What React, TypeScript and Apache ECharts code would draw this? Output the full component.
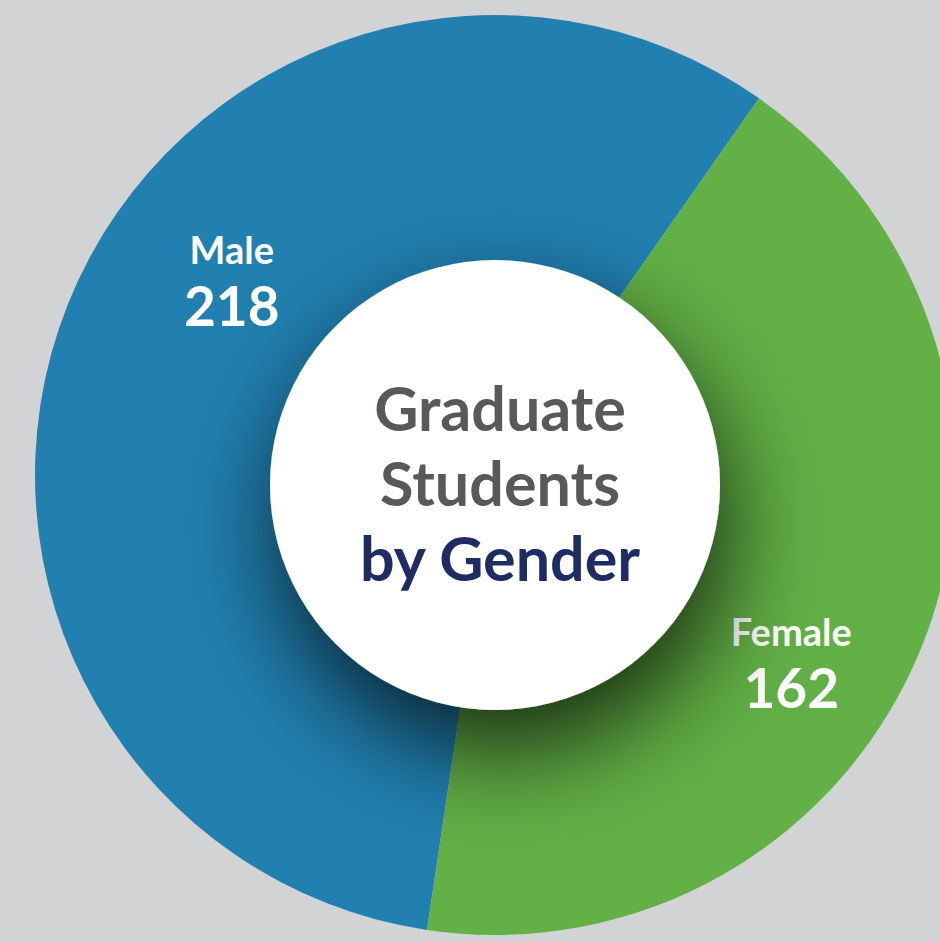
import React, { useEffect, useRef } from "react";
import * as echarts from "echarts";

const categories = ["Male", "Female"];
const values = [218, 162];
const sliceColors = ["#2180b0", "#62b046"];
const titleLines = ["Graduate", "Students"];
const titleAccent = "by Gender";

export default function App() {
  const ref = useRef<HTMLDivElement>(null);
  useEffect(() => {
    document.body.style.margin = "0";
    const chart = echarts.init(ref.current!, null, { renderer: "svg" });
    const labelShift = [
      { dx: 46, dy: -72 },
      { dx: -13, dy: 64 },
    ];
    chart.setOption({
      animation: false,
      backgroundColor: "#d2d3d5",
      series: [
        {
          type: "pie",
          center: [495, 475],
          radius: [200, 460],
          startAngle: 261.5,
          clockwise: true,
          silent: true,
          data: categories.map((c, i) => ({
            name: c,
            value: values[i],
            itemStyle: { color: sliceColors[i] },
          })),
          label: {
            show: true,
            position: "inside",
            formatter: "{n|{b}}\n{v|{c}}",
            rich: {
              n: {
                fontFamily: "Lato",
                fontSize: 38,
                fontWeight: "bold",
                color: "#ffffff",
                lineHeight: 50,
                align: "center",
              },
              v: {
                fontFamily: "Lato",
                fontSize: 55,
                fontWeight: "bold",
                color: "#ffffff",
                lineHeight: 62,
                align: "center",
              },
            },
          },
          labelLine: { show: false },
          labelLayout: (p: any) => labelShift[p.dataIndex],
          emphasis: { disabled: true },
        },
      ],
      graphic: [
        {
          type: "circle",
          z: 100,
          shape: { cx: 495, cy: 485, r: 225 },
          style: {
            fill: "#ffffff",
            shadowBlur: 100,
            shadowColor: "rgba(0,0,0,0.75)",
            shadowOffsetX: 8,
            shadowOffsetY: 42,
          },
        },
        {
          type: "text",
          z: 101,
          x: 500,
          y: 482,
          style: {
            text:
              titleLines.map((t) => "{g|" + t + "}").join("\n") +
              "\n{b|" + titleAccent + "}",
            align: "center",
            verticalAlign: "middle",
            rich: {
              g: {
                fontFamily: "Lato",
                fontSize: 61,
                fontWeight: "bold",
                fill: "#58595b",
                lineHeight: 75,
                align: "center",
              },
              b: {
                fontFamily: "Lato",
                fontSize: 61,
                fontWeight: "bold",
                fill: "#1f2b63",
                lineHeight: 75,
                align: "center",
              },
            },
          },
        },
      ],
    });
    return () => chart.dispose();
  }, []);
  return (
    <div
      ref={ref}
      style={{ position: "fixed", left: 0, top: 0, width: 940, height: 942 }}
    />
  );
}
